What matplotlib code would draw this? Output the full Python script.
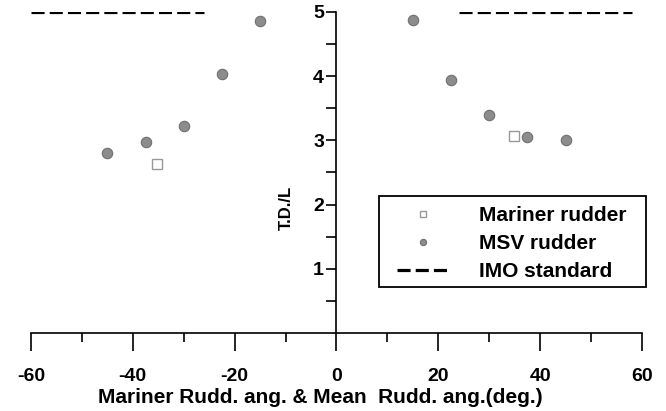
import numpy as np
import matplotlib.pyplot as plt
from matplotlib.patches import Rectangle

plt.rcParams['font.family'] = ['Liberation Sans', 'DejaVu Sans']
plt.rcParams['font.weight'] = 'bold'
plt.rcParams['axes.unicode_minus'] = False

# MSV rudder
msv_x = [-45, -37.5, -30, -22.5, -15, 15, 22.5, 30, 37.5, 45]
msv_y = [2.80, 2.97, 3.22, 4.03, 4.86, 4.87, 3.94, 3.40, 3.05, 3.00]

# Mariner rudder
mar_x = [-35.3, 34.9]
mar_y = [2.63, 3.07]

# IMO standard (two segments)
imo_left_x = [-60, -26]
imo_right_x = [24, 58]
imo_y = 5.0

fig = plt.figure(figsize=(6.66, 4.11), dpi=100)
ax = fig.add_axes([0.0465, 0.19, 0.9175, 0.781])

ax.plot(mar_x, mar_y, 's', ms=6.5, mfc='white', mec='#999999', mew=1.0,
        ls='none', label='Mariner rudder')
ax.plot(msv_x, msv_y, 'o', ms=7.5, mfc='#8c8c8c', mec='#707070', mew=0.8,
        ls='none', label='MSV rudder')
ax.plot(imo_left_x, [imo_y, imo_y], color='black', lw=2.3, dashes=(4.1, 1.6),
        label='IMO standard')
ax.plot(imo_right_x, [imo_y, imo_y], color='black', lw=2.3, dashes=(4.1, 1.6))

ax.set_xlim(-60, 60)
ax.set_ylim(0, 5)

for s in ['top', 'right']:
    ax.spines[s].set_visible(False)
ax.spines['left'].set_position(('data', 0))
ax.spines['left'].set_linewidth(1.2)
ax.spines['bottom'].set_linewidth(1.2)

ax.set_xticks(np.arange(-60, 61, 20))
ax.set_xticks(np.arange(-50, 60, 20), minor=True)
ax.set_yticks([1, 2, 3, 4, 5])
ax.set_yticks(np.arange(0.5, 5.0, 1.0), minor=True)
ax.tick_params(axis='x', which='major', direction='out', length=13, width=1.2,
               labelsize=14, pad=12)
ax.tick_params(axis='x', which='minor', direction='out', length=6.5, width=1.2)
ax.tick_params(axis='y', which='both', direction='out', length=7, width=1.2,
               labelsize=14, pad=2)
for lbl in ax.get_xticklabels() + ax.get_yticklabels():
    lbl.set_fontweight('bold')

ax.set_xlabel('Mariner Rudd. ang. & Mean  Rudd. ang.(deg.)', fontsize=15,
              fontweight='bold')
ax.xaxis.set_label_coords(0.474, -0.172)
ax.set_ylabel('T.D./L', fontsize=12, fontweight='bold')
ax.yaxis.set_label_coords(0.43, 0.39)

# legend: entries without frame, box drawn separately
leg = ax.legend(loc='upper left', bbox_to_anchor=(0.599, 0.394),
                borderaxespad=0, fontsize=15, frameon=False,
                handlelength=2.45, markerscale=0.6, borderpad=0,
                labelspacing=0.43, handletextpad=1.5)
for t in leg.get_texts():
    t.set_fontweight('bold')
ax.add_patch(Rectangle((0.5696, 0.1433), 0.437, 0.2835, transform=ax.transAxes,
                       fill=False, edgecolor='black', lw=1.3, clip_on=False))

fig.savefig('out.png', dpi=100)
